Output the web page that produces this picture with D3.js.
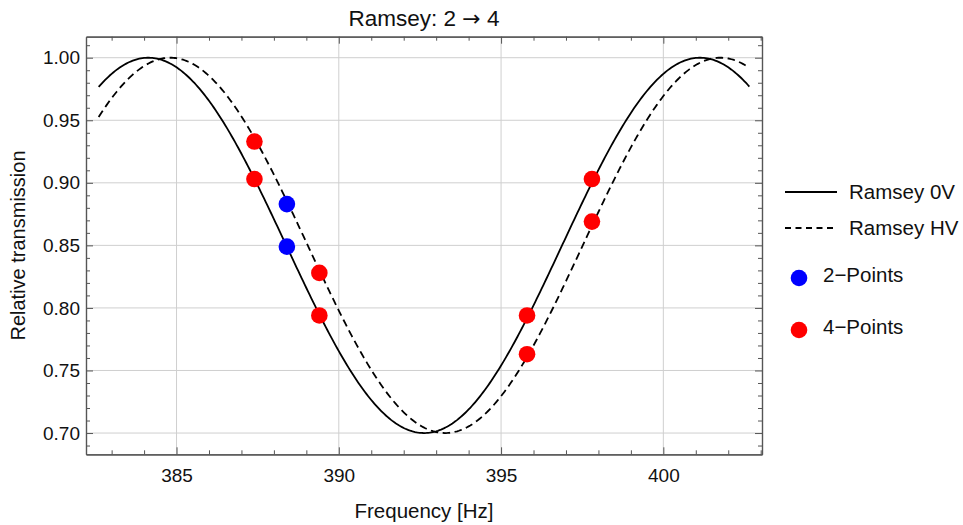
<!DOCTYPE html>
<html><head><meta charset="utf-8">
<script src="https://cdn.jsdelivr.net/npm/d3@7/dist/d3.min.js"></script>
<style>
body{margin:0;background:#fff;}
svg text{font-family:"Liberation Sans",Arial,sans-serif;}
</style></head>
<body><svg id="c" width="963" height="525"></svg>
<script>
// ---- data ----
const xTicks = [385, 390, 395, 400];
const yTicks = [0.70, 0.75, 0.80, 0.85, 0.90, 0.95, 1.00];
const yTickLabels = ["0.70", "0.75", "0.80", "0.85", "0.90", "0.95", "1.00"];
// fitted Ramsey fringe parameters: [minimum frequency, period, min, max]
const fit0V = {center: 392.63, period: 17.0, min: 0.70, max: 1.00};
const fitHV = {center: 393.28, period: 16.95, min: 0.70, max: 1.00};
const curveRange = [382.6, 402.66];
const twoPointFreq = [388.4, 388.4];
const twoPointVal = [0.883, 0.849];
const fourPointFreq = [387.4, 387.4, 389.4, 389.4, 395.8, 395.8, 397.8, 397.8];
const fourPointVal = [0.933, 0.903, 0.828, 0.794, 0.794, 0.763, 0.903, 0.869];

// ---- layout ----
const svg = d3.select("#c");
const L = 86, R = 762, T = 36.7, B = 454.3;
const x = d3.scaleLinear().domain([382.21, 403.04]).range([L, R]);
const y = d3.scaleLinear().domain([0.683, 1.0168]).range([B, T]);

// grid
const g = svg.append("g");
g.selectAll("line.gx").data(xTicks).join("line")
  .attr("x1", d => x(d)).attr("x2", d => x(d)).attr("y1", T).attr("y2", B)
  .attr("stroke", "#cfcfcf").attr("stroke-width", 1);
g.selectAll("line.gy").data(yTicks).join("line")
  .attr("y1", d => y(d)).attr("y2", d => y(d)).attr("x1", L).attr("x2", R)
  .attr("stroke", "#cfcfcf").attr("stroke-width", 1);

// axes with inward ticks
const xMinor = d3.range(383, 404, 1).filter(v => !xTicks.includes(v));
const yMinor = d3.range(69, 102, 1).map(v => v / 100).filter(v => !yTicks.some(t => Math.abs(t - v) < 1e-9));
const axisCol = "#555";
function addAxis(axis, tx, ty, labels) {
  const a = svg.append("g").attr("transform", `translate(${tx},${ty})`).call(axis);
  a.select(".domain").attr("stroke", axisCol).attr("stroke-width", 1.2);
  a.selectAll(".tick line").attr("stroke", axisCol);
  a.selectAll(".tick text").attr("fill", "#111").style("font-size", "19px");
  if (!labels) a.selectAll(".tick text").remove();
  return a;
}
// bottom
addAxis(d3.axisBottom(x).tickValues(xTicks).tickSizeInner(-7).tickSizeOuter(0).tickPadding(14).tickFormat(d3.format("d")), 0, B, true);
addAxis(d3.axisBottom(x).tickValues(xMinor).tickSizeInner(-4).tickSizeOuter(0), 0, B, false);
// top
addAxis(d3.axisTop(x).tickValues(xTicks).tickSizeInner(-7).tickSizeOuter(0), 0, T, false);
addAxis(d3.axisTop(x).tickValues(xMinor).tickSizeInner(-4).tickSizeOuter(0), 0, T, false);
// left
addAxis(d3.axisLeft(y).tickValues(yTicks).tickSizeInner(-7).tickSizeOuter(0).tickPadding(6).tickFormat((d, i) => yTickLabels[i]), L, 0, true);
addAxis(d3.axisLeft(y).tickValues(yMinor).tickSizeInner(-4).tickSizeOuter(0), L, 0, false);
// right
addAxis(d3.axisRight(y).tickValues(yTicks).tickSizeInner(-7).tickSizeOuter(0), R, 0, false);
addAxis(d3.axisRight(y).tickValues(yMinor).tickSizeInner(-4).tickSizeOuter(0), R, 0, false);

// curves
function fringe(p) {
  const mid = (p.max + p.min) / 2, amp = (p.max - p.min) / 2;
  return f => mid - amp * Math.cos(2 * Math.PI * (f - p.center) / p.period);
}
const freqs = d3.range(curveRange[0], curveRange[1] + 0.001, 0.05);
const line = d3.line().x(d => x(d[0])).y(d => y(d[1]));
const f0 = fringe(fit0V), fH = fringe(fitHV);
svg.append("path").datum(freqs.map(f => [f, fH(f)])).attr("d", line)
  .attr("fill", "none").attr("stroke", "#000").attr("stroke-width", 1.8).attr("stroke-dasharray", "7.5,4.5");
svg.append("path").datum(freqs.map(f => [f, f0(f)])).attr("d", line)
  .attr("fill", "none").attr("stroke", "#000").attr("stroke-width", 1.8);

// points
svg.append("g").selectAll("circle").data(twoPointFreq.map((f, i) => [f, twoPointVal[i]])).join("circle")
  .attr("cx", d => x(d[0])).attr("cy", d => y(d[1])).attr("r", 8.3).attr("fill", "#0000ff");
svg.append("g").selectAll("circle").data(fourPointFreq.map((f, i) => [f, fourPointVal[i]])).join("circle")
  .attr("cx", d => x(d[0])).attr("cy", d => y(d[1])).attr("r", 8.3).attr("fill", "#ff0000");

// title and labels
const title = svg.append("text").attr("x", (L + R) / 2).attr("y", 26).attr("text-anchor", "middle")
  .style("font-size", "22.5px").attr("fill", "#111");
title.append("tspan").text("Ramsey: 2 ");
title.append("tspan").style("font-family", "'DejaVu Sans'").style("font-size", "22px").text("\u2192");
title.append("tspan").text(" 4");
svg.append("text").attr("x", (L + R) / 2).attr("y", 518).attr("text-anchor", "middle")
  .style("font-size", "20.5px").attr("fill", "#111").text("Frequency [Hz]");
svg.append("text").attr("transform", `translate(25,${(T + B) / 2}) rotate(-90)`).attr("text-anchor", "middle")
  .style("font-size", "20px").attr("fill", "#111").text("Relative transmission");

// legend
const leg = svg.append("g");
leg.append("line").attr("x1", 785).attr("x2", 837).attr("y1", 192).attr("y2", 192).attr("stroke", "#000").attr("stroke-width", 1.8);
leg.append("line").attr("x1", 785).attr("x2", 837).attr("y1", 228).attr("y2", 228).attr("stroke", "#000").attr("stroke-width", 1.8).attr("stroke-dasharray", "6,4.5");
leg.append("circle").attr("cx", 799).attr("cy", 278).attr("r", 8.3).attr("fill", "#0000ff");
leg.append("circle").attr("cx", 799).attr("cy", 330).attr("r", 8.3).attr("fill", "#ff0000");
const legText = [["Ramsey 0V", 849, 192], ["Ramsey HV", 849, 228], ["2\u2212Points", 823, 275], ["4\u2212Points", 823, 327]];
leg.selectAll("text").data(legText).join("text")
  .attr("x", d => d[1]).attr("y", d => d[2]).attr("dy", "0.35em")
  .style("font-size", "20.5px").attr("fill", "#111").text(d => d[0]);
</script></body></html>
